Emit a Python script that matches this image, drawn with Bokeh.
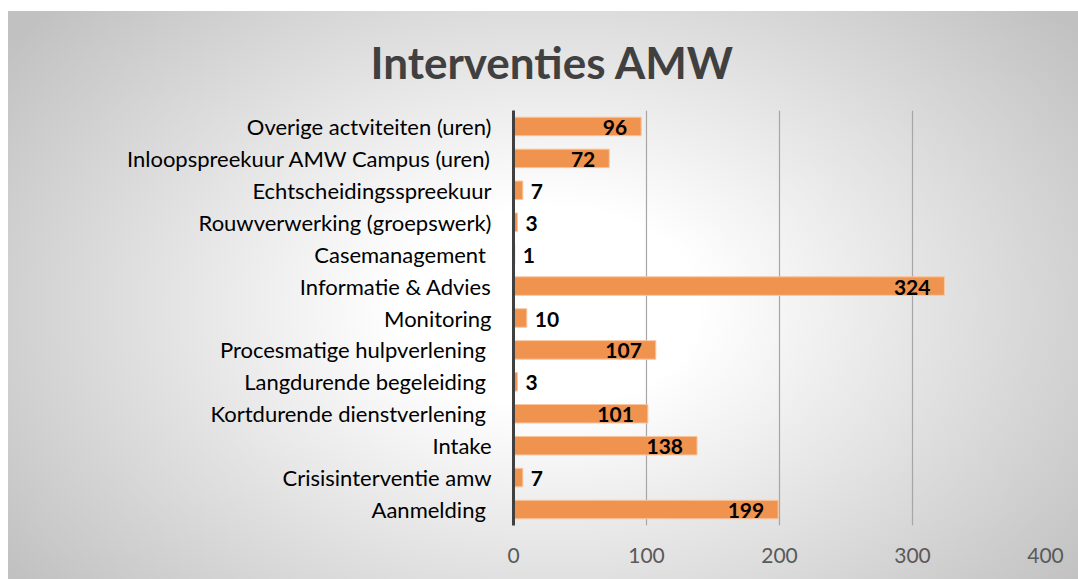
from bokeh.plotting import figure
from bokeh.models import ColumnDataSource, Range1d, FactorRange, Title, FixedTicker
from bokeh.embed import file_html
from bokeh.resources import INLINE
from bokeh.core.properties import value

categories = [
    "Aanmelding ",
    "Crisisinterventie amw",
    "Intake",
    "Kortdurende dienstverlening ",
    "Langdurende begeleiding ",
    "Procesmatige hulpverlening ",
    "Monitoring",
    "Informatie & Advies",
    "Casemanagement ",
    "Rouwverwerking (groepswerk)",
    "Echtscheidingsspreekuur",
    "Inloopspreekuur AMW Campus (uren)",
    "Overige actviteiten (uren)",
]
values = [199, 7, 138, 101, 3, 107, 10, 324, 1, 3, 7, 72, 96]
x_ticks = [0, 100, 200, 300, 400]
title_text = "Interventies AMW"

FONT = "Lato"
BAR = "#f0934f"

p = figure(
    width=1078, height=579,
    y_range=FactorRange(factors=categories, range_padding=0),
    x_range=Range1d(0, 400),
    output_backend="svg", toolbar_location=None,
    min_border_left=513, min_border_right=33,
    min_border_top=110, min_border_bottom=54,
)
p.styles = {
    "background": "linear-gradient(#ffffff, #ffffff) top / 100% 11px no-repeat, "
                  "linear-gradient(#ffffff, #ffffff) left / 8px 100% no-repeat, "
                  "radial-gradient(ellipse 62% 78% at 51% 53%, #ffffff 0%, #ffffff 22%, #c1c1c1 100%)"
}
p.background_fill_alpha = 0
p.border_fill_alpha = 0
p.outline_line_color = None

src_in = ColumnDataSource(dict(
    cat=[c for c, v in zip(categories, values) if v >= 20],
    val=[v for v in values if v >= 20],
    lab=[str(v) for v in values if v >= 20],
))
src_out = ColumnDataSource(dict(
    cat=[c for c, v in zip(categories, values) if v < 20],
    val=[v for v in values if v < 20],
    lab=[str(v) for v in values if v < 20],
))
src = ColumnDataSource(dict(cat=categories, val=values))

p.hbar(y="cat", right="val", left=0, height=0.58, source=src,
       fill_color=BAR, line_color="#f7c6a2", line_width=1)

p.text(x="val", y="cat", text="lab", source=src_in, text_align="right",
       text_baseline="middle", x_offset=-14, y_offset=1,
       text_font=value(FONT), text_font_style="bold", text_font_size="21px",
       text_color="#000000")
p.text(x="val", y="cat", text="lab", source=src_out, text_align="left",
       text_baseline="middle", x_offset=8, y_offset=1,
       text_font=value(FONT), text_font_style="bold", text_font_size="21px",
       text_color="#000000")

# axes
p.xaxis.ticker = FixedTicker(ticks=x_ticks)
p.xaxis.axis_line_color = None
p.xaxis.major_tick_line_color = None
p.xaxis.minor_tick_line_color = None
p.xaxis.major_label_text_font = FONT
p.xaxis.major_label_text_font_size = "21px"
p.xaxis.major_label_text_color = "#595959"
p.xaxis.major_label_standoff = 16

p.yaxis.axis_line_color = "#404040"
p.yaxis.axis_line_width = 3
p.yaxis.major_tick_line_color = None
p.yaxis.minor_tick_line_color = None
p.yaxis.major_label_text_font = FONT
p.yaxis.major_label_text_font_size = "22px"
p.yaxis.major_label_text_color = "#000000"
p.yaxis.major_label_standoff = 16

p.ygrid.grid_line_color = None
p.xgrid.grid_line_color = "#a6a6a6"
p.xgrid.grid_line_width = 1.2
p.xgrid.ticker = FixedTicker(ticks=x_ticks)

p.add_layout(Title(text=title_text, align="left", offset=-143, standoff=46,
                   text_font=FONT, text_font_style="bold", text_font_size="44px",
                   text_color="#404040"), "above")

open("out.html", "w").write(file_html(p, INLINE))
